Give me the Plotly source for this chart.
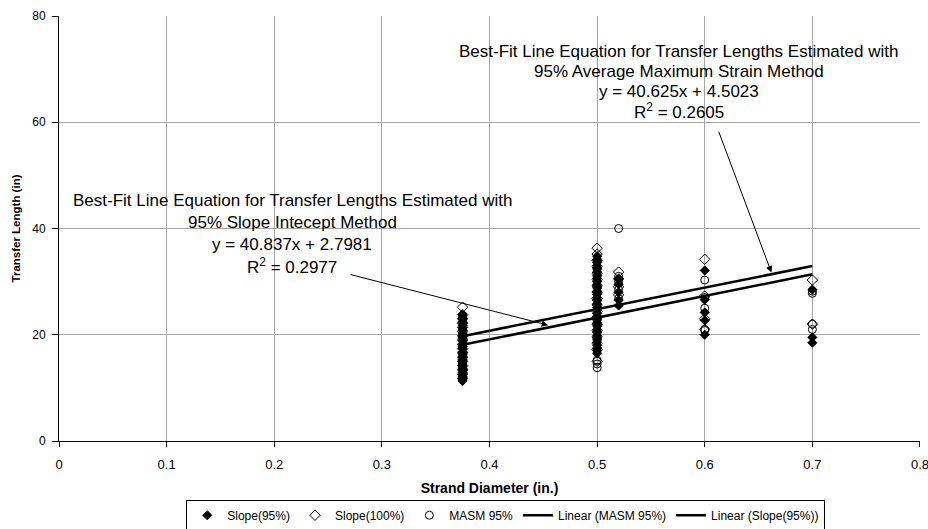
import plotly.graph_objects as go

# ---------------- data ----------------
slope95_d = [0.375]*27 + [0.5]*32 + [0.52]*5 + [0.6]*5 + [0.7]*3
slope95_len = [11.3, 11.7, 12.1, 12.5, 12.9, 13.3, 13.7, 14.1, 14.5, 14.9, 15.3, 15.8, 16.3, 16.8,
               17.3, 17.8, 18.3, 18.8, 19.3, 19.8, 20.3, 20.8, 21.3, 21.8, 22.4, 23.0, 23.7,
               16.5, 17.0, 17.5, 18.0, 18.6, 19.2, 19.8, 20.4, 21.0, 21.6, 22.2, 22.8, 23.4, 24.0,
               24.6, 25.2, 25.8, 26.4, 27.0, 27.6, 28.2, 28.8, 29.4, 30.0, 30.6, 31.2, 31.8, 32.4,
               33.0, 33.6, 34.2, 34.8,
               25.5, 26.5, 28.0, 29.5, 30.5,
               20.0, 22.7, 24.2, 26.6, 32.1,
               18.5, 19.5, 28.5]

slope100_d = [0.375]*17 + [0.5]*18 + [0.52]*4 + [0.6]*4 + [0.7]*2
slope100_len = [11.8, 12.6, 13.4, 14.2, 15.0, 15.8, 16.6, 17.4, 18.2, 19.0, 19.8, 20.6, 21.4, 22.2,
                23.0, 23.8, 25.2,
                15.0, 17.2, 18.4, 19.6, 20.8, 22.0, 23.2, 24.4, 25.6, 26.8, 28.0, 29.2, 30.4, 31.6,
                32.8, 34.0, 35.2, 36.3,
                27.5, 29.0, 30.5, 31.8,
                21.0, 23.0, 27.3, 34.2,
                22.0, 30.3]

masm_d = [0.375]*10 + [0.5]*15 + [0.52]*5 + [0.6]*5 + [0.7]*4
masm_len = [12.0, 13.5, 15.0, 16.5, 18.0, 19.5, 21.0, 22.2, 23.0, 23.6,
            13.8, 14.5, 15.2, 17.5, 19.0, 20.5, 22.0, 23.5, 25.0, 26.5, 28.0, 29.5, 31.0, 32.5, 34.0,
            26.8, 28.5, 30.0, 31.0, 40.0,
            20.8, 21.0, 25.0, 27.0, 30.3,
            21.0, 22.0, 27.8, 28.2]

# best-fit line coefficients (slope, intercept) and their x extent
masm_fit = (40.625, 4.5023)
slope95_fit = (40.837, 2.7981)
fit_x = [0.375, 0.7]

x_ticks = [0, 0.1, 0.2, 0.3, 0.4, 0.5, 0.6, 0.7, 0.8]
y_ticks = [0, 20, 40, 60, 80]

FONT = "Liberation Sans, Arial, sans-serif"

fig = go.Figure()
fig.add_trace(go.Scatter(x=slope95_d, y=slope95_len, mode="markers", name="Slope(95%)",
                         marker=dict(symbol="diamond", size=7, color="black",
                                     line=dict(color="black", width=1))))
fig.add_trace(go.Scatter(x=slope100_d, y=slope100_len, mode="markers", name="Slope(100%)",
                         marker=dict(symbol="diamond-open", size=8, color="black",
                                     line=dict(color="black", width=1))))
fig.add_trace(go.Scatter(x=masm_d, y=masm_len, mode="markers", name="MASM 95%",
                         marker=dict(symbol="circle-open", size=8, color="black",
                                     line=dict(color="black", width=1))))
fig.add_trace(go.Scatter(x=fit_x, y=[masm_fit[0]*v + masm_fit[1] for v in fit_x],
                         mode="lines", name="Linear (MASM 95%)",
                         line=dict(color="black", width=2.5)))
fig.add_trace(go.Scatter(x=fit_x, y=[slope95_fit[0]*v + slope95_fit[1] for v in fit_x],
                         mode="lines", name="Linear (Slope(95%))",
                         line=dict(color="black", width=2.5)))

ann_font = dict(family=FONT, size=17, color="black")
top_lines = ["Best-Fit Line Equation for Transfer Lengths Estimated with",
             "95% Average Maximum Strain Method",
             "y = 40.625x + 4.5023",
             "R<sup>2</sup> = 0.2605"]
top_y = [73.36, 69.6, 65.84, 62.08]
bot_lines = ["Best-Fit Line Equation for Transfer Lengths Estimated with",
             "95% Slope Intecept Method",
             "y = 40.837x + 2.7981",
             "R<sup>2</sup> = 0.2977"]
bot_y = [45.33, 41.2, 37.06, 32.92]

annotations = []
for t, yy in zip(top_lines, top_y):
    annotations.append(dict(x=0.576, y=yy, xref="x", yref="y", text=t, showarrow=False,
                            font=ann_font, xanchor="center", yanchor="middle"))
for t, yy in zip(bot_lines, bot_y):
    annotations.append(dict(x=0.2165, y=yy, xref="x", yref="y", text=t, showarrow=False,
                            font=ann_font, xanchor="center", yanchor="middle"))
# arrows
annotations.append(dict(x=0.662, y=31.7, ax=0.6125, ay=58.5, xref="x", yref="y",
                        axref="x", ayref="y", text="", showarrow=True,
                        arrowhead=2, arrowsize=1.3, arrowwidth=1, arrowcolor="black"))
annotations.append(dict(x=0.4545, y=21.8, ax=0.2695, ay=31.4, xref="x", yref="y",
                        axref="x", ayref="y", text="", showarrow=True,
                        arrowhead=2, arrowsize=1.3, arrowwidth=1, arrowcolor="black"))

fig.update_layout(
    width=928, height=529,
    margin=dict(l=59, r=8, t=16, b=88, autoexpand=False),
    paper_bgcolor="white", plot_bgcolor="white",
    font=dict(family=FONT, size=12, color="black"),
    showlegend=True,
    legend=dict(orientation="h", x=0.545, xanchor="center", xref="container",
                y=0.026, yanchor="middle", yref="container",
                bordercolor="black", borderwidth=1, bgcolor="white",
                font=dict(family=FONT, size=12, color="black"),
                itemwidth=30, tracegroupgap=0),
    annotations=annotations,
)
fig.update_xaxes(range=[0, 0.80002], tickvals=x_ticks, ticktext=[str(v) for v in x_ticks],
                 showgrid=True, gridcolor="#a6a6a6", gridwidth=1, automargin=False,
                 showline=True, linecolor="black", linewidth=1,
                 ticks="outside", ticklen=5, tickcolor="black", zeroline=False,
                 ticklabeloverflow="allow",
                 tickfont=dict(family=FONT, size=13), ticklabelstandoff=6,
                 title=dict(text="<b>Strand Diameter (in.)</b>", standoff=12,
                            font=dict(family=FONT, size=14)))
fig.update_yaxes(range=[0, 80.002], tickvals=y_ticks, automargin=False,
                 showgrid=True, gridcolor="#a6a6a6", gridwidth=1,
                 showline=True, linecolor="black", linewidth=1,
                 ticks="outside", ticklen=6, tickcolor="black", zeroline=False,
                 ticklabeloverflow="allow",
                 tickfont=dict(family=FONT, size=12), ticklabelstandoff=4,
                 title=dict(text="<b>Transfer Length (in)</b>", standoff=9,
                            font=dict(family=FONT, size=11.5)))

fig.write_html("out.html")
